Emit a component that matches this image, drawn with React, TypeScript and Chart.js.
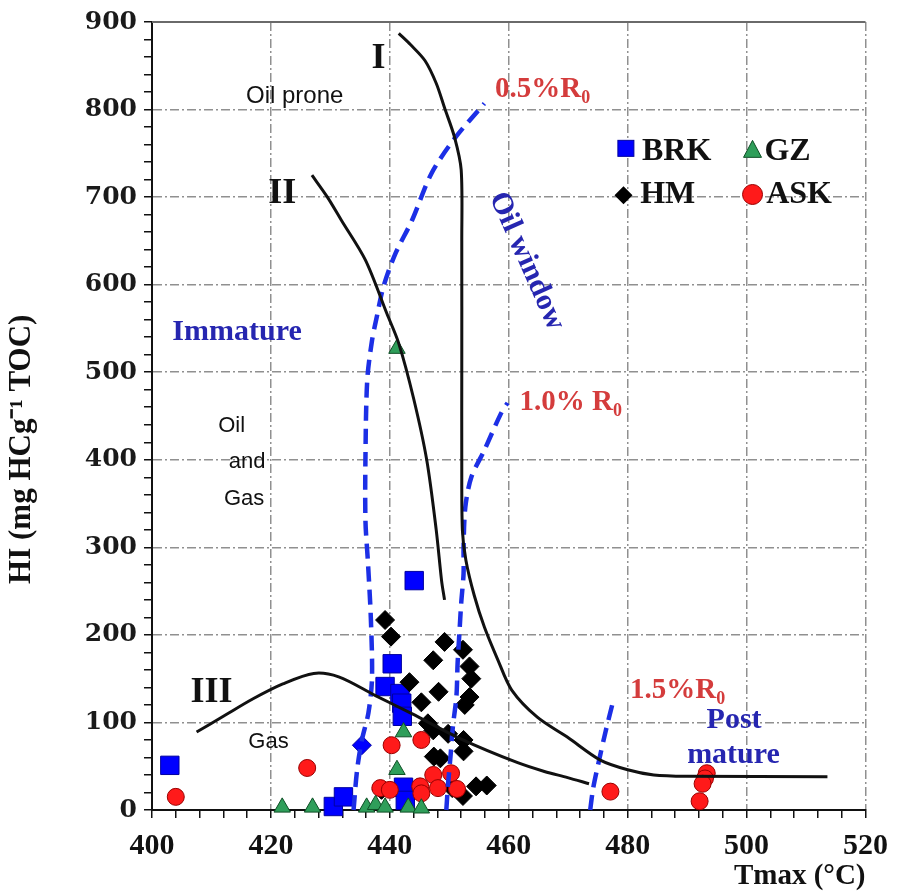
import { useEffect, useRef } from 'react';
import { Chart, registerables } from 'chart.js';

Chart.register(...registerables);

// ---- Sample data (Tmax °C, HI mg HC/g TOC) ----
const BRK_X = [403.0, 430.5, 432.2, 442.3, 442.6, 439.2, 440.4, 441.7, 442.0, 442.1, 444.1];
const BRK_Y = [51, 4, 15, 26, 11, 141, 167, 133, 122, 107, 262];
const BRK_DIAMOND_X = [435.3];
const BRK_DIAMOND_Y = [74];

const GZ_X = [441.2, 442.3, 441.2, 421.9, 427.0, 436.1, 437.6, 439.2, 443.1, 445.3];
const GZ_Y = [527, 89, 46, 3, 3, 3, 6, 3, 3, 2];

const HM_X = [439.2, 440.2, 449.2, 447.3, 452.3, 453.4, 453.7, 453.4, 452.6, 443.3, 448.2, 445.3,
  446.4, 447.3, 449.8, 452.4, 452.4, 447.4, 448.5, 454.5, 456.3, 452.3, 438.6, 450.5];
const HM_Y = [217, 198, 192, 171, 183, 164, 150, 129, 120, 146, 135, 123,
  99, 91, 87, 80, 67, 61, 59, 27, 28, 16, 23, 25];

const ASK_X = [404.0, 426.1, 440.3, 445.3, 438.4, 440.0, 445.1, 445.3, 447.3, 450.3, 448.1, 451.3,
  477.1, 493.3, 493.0, 492.6, 492.1];
const ASK_Y = [15, 48, 74, 80, 25, 23, 27, 19, 40, 42, 25, 24, 21, 42, 36, 30, 10];

// ---- Kerogen type boundary curves ----
const TYPE_I_X = [441.5, 443.5, 445.9, 447.8, 449.2, 450.9, 452.0, 452.1, 452.1, 452.1, 452.2, 452.8,
  454.2, 455.9, 458.2, 460.5, 464.8, 469.9, 475.4, 480.0, 484.4, 490.0, 513.6];
const TYPE_I_Y = [887, 874, 856, 830, 802, 768, 731, 650, 500, 400, 320, 285,
  245, 209, 171, 137, 106, 83, 57, 46, 40, 38.5, 38];

const TYPE_II_X = [426.9, 429.5, 431.9, 435.9, 439.5, 441.5, 444.0, 446.2, 447.8, 448.7, 449.2];
const TYPE_II_Y = [725, 700, 673, 628, 567, 533, 470, 400, 320, 262, 240];

const TYPE_III_X = [407.5, 412.0, 417.0, 422.0, 427.2, 431.4, 437.5, 443.7, 452.0, 461.5, 466.0, 469.9, 473.5];
const TYPE_III_Y = [89, 107, 127, 144, 156, 152, 131, 110, 81, 54, 44, 37, 30];

// ---- Vitrinite reflectance iso-lines ----
const RO05_X = [433.9, 434.5, 435.3, 436.4, 437.0, 436.8, 436.3, 435.9, 435.9, 436.2, 437.0, 437.8,
  438.9, 440.9, 443.7, 447.0, 450.9, 455.9];
const RO05_Y = [0, 46, 80, 111, 150, 220, 285, 330, 403, 491, 536, 563, 597, 635, 673, 727, 767, 807];

const RO10_X = [449.5, 449.8, 450.2, 450.6, 451.2, 451.4, 451.7, 452.0, 452.4, 452.4, 452.7, 453.7,
  455.9, 458.7, 459.8];
const RO10_Y = [0, 30, 61, 95, 130, 168, 202, 236, 270, 300, 346, 380, 411, 453, 465];

const RO15_X = [473.7, 474.2, 475.2, 476.3, 477.4];
const RO15_Y = [0, 25, 57, 90, 120];

// ---- Axes ----
const X_MIN = 400, X_MAX = 520, X_MINOR = 4, X_MAJOR = 20;
const Y_MIN = 0, Y_MAX = 900, Y_MINOR = 20, Y_MAJOR = 100;
const X_TITLE = 'Tmax (°C)';
const Y_TITLE = 'HI (mg HCg⁻¹ TOC)';

const pts = (xs: number[], ys: number[]) => xs.map((x, i) => ({ x, y: ys[i] }));

const SERIF = "'Liberation Serif', 'Times New Roman', serif";
const SANS = "'Liberation Sans', Arial, sans-serif";
const BLUE_TXT = '#2626b0';
const RED_TXT = '#d43c3c';
const DASH_BLUE = '#1c2fe6';

export default function App() {
  const ref = useRef<HTMLCanvasElement>(null);

  useEffect(() => {
    const canvas = ref.current!;

    const framePlugin = {
      id: 'frame',
      beforeDatasetsDraw(chart: any) {
        const { ctx, chartArea } = chart;
        ctx.save();
        ctx.strokeStyle = '#6a6a6a';
        ctx.lineWidth = 2;
        ctx.beginPath();
        ctx.moveTo(chartArea.left, chartArea.top);
        ctx.lineTo(chartArea.right, chartArea.top);
        ctx.stroke();
        ctx.restore();
      },
    };

    const annotPlugin = {
      id: 'annot',
      afterDraw(chart: any) {
        const { ctx } = chart;
        const xs = chart.scales.x;
        const ys = chart.scales.y;
        const X = (v: number) => xs.getPixelForValue(v);
        const Y = (v: number) => ys.getPixelForValue(v);
        ctx.save();
        const txt = (s: string, x: number, y: number, size: number, color: string,
          align: CanvasTextAlign = 'center', family = SERIF, weight = 'bold') => {
          ctx.font = `${weight} ${size}px ${family}`;
          ctx.fillStyle = color;
          ctx.textAlign = align;
          ctx.textBaseline = 'alphabetic';
          ctx.fillText(s, X(x), Y(y));
        };
        const sub = (main: string, s: string, x: number, y: number, size: number, color: string) => {
          ctx.font = `bold ${size}px ${SERIF}`;
          ctx.fillStyle = color;
          ctx.textAlign = 'left';
          ctx.textBaseline = 'alphabetic';
          const px = X(x), py = Y(y);
          ctx.fillText(main, px, py);
          const w = ctx.measureText(main).width;
          ctx.font = `bold ${Math.round(size * 0.62)}px ${SERIF}`;
          ctx.fillText(s, px + w, py + size * 0.2);
        };

        // y axis title
        ctx.save();
        ctx.translate(ys.left + 22, Y(412));
        ctx.rotate(-Math.PI / 2);
        ctx.font = `bold 31px ${SERIF}`;
        ctx.fillStyle = '#111';
        ctx.textAlign = 'center';
        ctx.textBaseline = 'middle';
        ctx.fillText(Y_TITLE, 0, 0);
        ctx.restore();

        // kerogen type labels
        txt('I', 438.1, 847, 36, '#111');
        txt('II', 421.9, 693, 36, '#111');
        txt('III', 410.0, 123, 36, '#111');
        txt('Oil prone', 424.0, 808, 24, '#111', 'center', SANS, 'normal');
        txt('Oil', 413.4, 431.5, 22, '#111', 'center', SANS, 'normal');
        txt('and', 416.0, 390.4, 22, '#111', 'center', SANS, 'normal');
        txt('Gas', 415.5, 348.2, 22, '#111', 'center', SANS, 'normal');
        txt('Gas', 419.6, 70.8, 22, '#111', 'center', SANS, 'normal');

        // maturity labels
        txt('Immature', 414.3, 536.5, 30, BLUE_TXT);
        txt('Post', 497.9, 93.6, 30, BLUE_TXT);
        txt('mature', 497.8, 53.7, 30, BLUE_TXT);
        ctx.save();
        ctx.translate(X(463.0), Y(626.7));
        ctx.rotate((66 * Math.PI) / 180);
        ctx.font = `bold 30px ${SERIF}`;
        ctx.fillStyle = BLUE_TXT;
        ctx.textAlign = 'center';
        ctx.textBaseline = 'middle';
        ctx.fillText('Oil window', 0, 0);
        ctx.restore();

        sub('0.5%R', '0', 457.7, 814, 29, RED_TXT);
        sub('1.0% R', '0', 461.8, 456.6, 29, RED_TXT);
        sub('1.5%R', '0', 480.4, 127.9, 29, RED_TXT);

        // legend
        const lf = 32;
        ctx.fillStyle = '#0000ff';
        ctx.strokeStyle = '#0000a0';
        ctx.lineWidth = 1;
        const sqx = X(479.7), sqy = Y(755.7);
        ctx.fillRect(sqx - 8, sqy - 8, 16, 16);
        ctx.strokeRect(sqx - 8, sqy - 8, 16, 16);
        txt('BRK', 482.4, 742, lf, '#111', 'left');
        const tx = X(501.0), ty = Y(753.4);
        ctx.beginPath();
        ctx.moveTo(tx, ty - 10);
        ctx.lineTo(tx + 9, ty + 7);
        ctx.lineTo(tx - 9, ty + 7);
        ctx.closePath();
        ctx.fillStyle = '#2f9e5a';
        ctx.fill();
        ctx.strokeStyle = '#0f4f26';
        ctx.stroke();
        txt('GZ', 503.0, 742, lf, '#111', 'left');
        const dx = X(479.3), dy = Y(702);
        ctx.beginPath();
        ctx.moveTo(dx, dy - 9);
        ctx.lineTo(dx + 9, dy);
        ctx.lineTo(dx, dy + 9);
        ctx.lineTo(dx - 9, dy);
        ctx.closePath();
        ctx.fillStyle = '#000';
        ctx.fill();
        txt('HM', 482.1, 693, lf, '#111', 'left');
        ctx.beginPath();
        ctx.arc(X(501.0), Y(703), 10, 0, Math.PI * 2);
        ctx.fillStyle = '#ff1a1a';
        ctx.fill();
        ctx.strokeStyle = '#990000';
        ctx.stroke();
        txt('ASK', 503.3, 693, lf, '#111', 'left');

        ctx.restore();
      },
    };

    const curve = (label: string, xs: number[], ys: number[], dashed: boolean) => ({
      label,
      data: pts(xs, ys),
      showLine: true,
      pointRadius: 0,
      pointHoverRadius: 0,
      borderColor: dashed ? DASH_BLUE : '#111',
      borderWidth: dashed ? 4.5 : 3,
      borderDash: dashed ? [15, 8] : [],
      tension: 0.3,
      fill: false,
      order: 0,
      clip: false,
    });

    const chart = new Chart(canvas, {
      type: 'scatter',
      data: {
        datasets: [
          curve('Type I', TYPE_I_X, TYPE_I_Y, false),
          curve('Type II', TYPE_II_X, TYPE_II_Y, false),
          curve('Type III', TYPE_III_X, TYPE_III_Y, false),
          curve('0.5%Ro', RO05_X, RO05_Y, true),
          curve('1.0%Ro', RO10_X, RO10_Y, true),
          curve('1.5%Ro', RO15_X, RO15_Y, true),
          {
            label: 'GZ', data: pts(GZ_X, GZ_Y), pointStyle: 'triangle', pointRadius: 9.5,
            backgroundColor: '#2f9e5a', borderColor: '#0f4f26', borderWidth: 1, order: 1, clip: false,
          },
          {
            label: 'ASK', data: pts(ASK_X, ASK_Y), pointStyle: 'circle', pointRadius: 8.5,
            backgroundColor: '#ff1a1a', borderColor: '#990000', borderWidth: 1, order: 2, clip: false,
          },
          {
            label: 'HM', data: pts(HM_X, HM_Y), pointStyle: 'rectRot', pointRadius: 9.5,
            backgroundColor: '#000', borderColor: '#000', borderWidth: 1, order: 3, clip: false,
          },
          {
            label: 'BRK', data: pts(BRK_X, BRK_Y), pointStyle: 'rect', pointRadius: 13,
            backgroundColor: '#0000ff', borderColor: '#0000a0', borderWidth: 1, order: 4, clip: false,
          },
          {
            label: 'BRK*', data: pts(BRK_DIAMOND_X, BRK_DIAMOND_Y), pointStyle: 'rectRot', pointRadius: 9.5,
            backgroundColor: '#0000ff', borderColor: '#0000a0', borderWidth: 1, order: 4, clip: false,
          },
        ],
      },
      options: {
        responsive: false,
        animation: false,
        devicePixelRatio: 1,
        events: [],
        layout: { padding: { left: 0, right: 28, top: 22, bottom: 0 } },
        plugins: { legend: { display: false }, tooltip: { enabled: false } },
        scales: {
          x: {
            type: 'linear',
            min: X_MIN,
            max: X_MAX,
            afterFit: (s: any) => { s.height = 86; },
            ticks: {
              stepSize: X_MINOR,
              autoSkip: false,
              maxRotation: 0,
              padding: 10,
              color: '#111',
              font: { family: SERIF, weight: 'bold', size: 30 },
              callback: (v: any) => (Number(v) % X_MAJOR === 0 ? String(v) : ''),
            },
            grid: {
              color: (c: any) => (c.tick && c.tick.value % X_MAJOR === 0 && c.tick.value !== X_MIN ? '#909090' : 'rgba(0,0,0,0)'),
              lineWidth: 1.5,
              tickColor: '#111',
              tickLength: 8,
              tickWidth: 1.5,
              tickBorderDash: [],
            },
            border: { color: '#111', width: 2, dash: [9, 3, 2, 3] },
            title: {
              display: true,
              text: X_TITLE,
              align: 'end',
              color: '#111',
              font: { family: SERIF, weight: 'bold', size: 29 },
              padding: { top: 0, bottom: 2 },
            },
          },
          y: {
            type: 'linear',
            min: Y_MIN,
            max: Y_MAX,
            afterFit: (s: any) => { s.width = 152; },
            ticks: {
              stepSize: Y_MINOR,
              autoSkip: false,
              padding: 7,
              color: '#1a1a1a',
              font: { family: "'DejaVu Serif', serif", weight: 'bold', size: 25 },
              callback: (v: any) => (Number(v) % Y_MAJOR === 0 ? String(v) : ''),
            },
            grid: {
              color: (c: any) => (c.tick && c.tick.value % Y_MAJOR === 0 && c.tick.value !== Y_MIN ? '#909090' : 'rgba(0,0,0,0)'),
              lineWidth: 1.5,
              tickColor: '#111',
              tickLength: 8,
              tickWidth: 1.5,
              tickBorderDash: [],
            },
            border: { color: '#111', width: 2, dash: [9, 3, 2, 3] },
            title: { display: false },
          },
        },
      },
      plugins: [framePlugin, annotPlugin],
    } as any);

    return () => chart.destroy();
  }, []);

  return (
    <div style={{ position: 'absolute', left: 0, top: 0, width: 898, height: 896, background: '#fff' }}>
      <canvas ref={ref} width={898} height={896} style={{ width: 898, height: 896, display: 'block' }} />
    </div>
  );
}
